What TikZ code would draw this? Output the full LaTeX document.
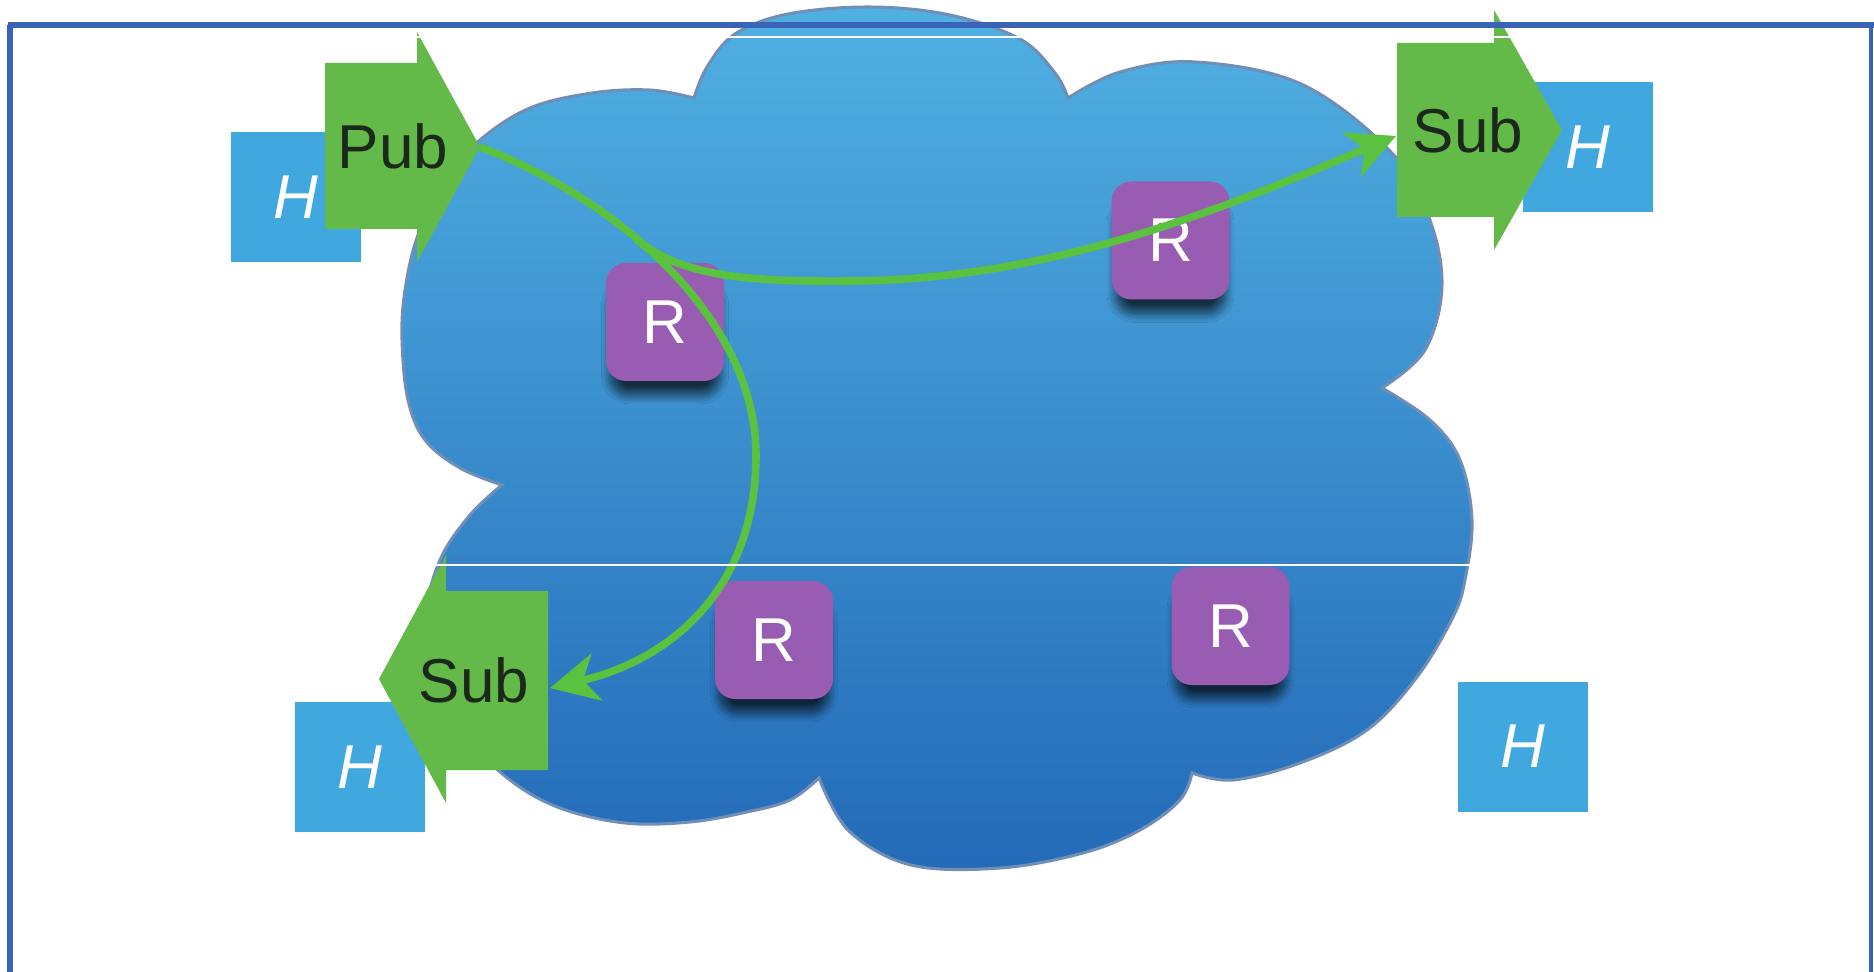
\documentclass[tikz,border=0pt]{standalone}
\usepackage{fontspec}
\setmainfont{Liberation Sans}
\usetikzlibrary{arrows.meta,shadows.blur}

\definecolor{framecol}{RGB}{58,98,182}
\definecolor{cloudtop}{RGB}{80,176,226}
\definecolor{cloudmid}{RGB}{62,140,204}
\definecolor{cloudbot}{RGB}{36,106,184}
\definecolor{cloudedge}{RGB}{112,142,182}
\definecolor{hostblue}{RGB}{64,168,222}
\definecolor{routerpurple}{RGB}{152,92,178}
\definecolor{blockgreen}{RGB}{100,186,72}
\definecolor{linkgreen}{RGB}{90,194,62}
\definecolor{labeldark}{RGB}{28,40,28}

\tikzset{
  hostbox/.style={fill=hostblue, minimum size=65pt, inner sep=0pt, text=white,
    font=\fontsize{31}{31}\selectfont\itshape},
  routerbox/.style={fill=routerpurple, rounded corners=10pt, minimum size=59pt,
    inner sep=0pt, text=white, font=\fontsize{31}{31}\selectfont,
    blur shadow={shadow xshift=0pt, shadow yshift=-10pt, shadow scale=0.92,
      shadow blur radius=5pt, shadow opacity=70, shadow blur steps=14}},
  blockarrow/.style={fill=blockgreen},
  arrowlabel/.style={anchor=base, inner sep=0pt, text=labeldark,
    font=\fontsize{31}{31}\selectfont},
  link/.style={draw=linkgreen, line width=3.8pt,
    -{Stealth[length=24pt,width=24pt,inset=7pt]}},
  seam/.style={draw=white, line width=0.8pt},
}

\begin{document}
\begin{tikzpicture}[x=0.5pt,y=-0.5pt]
\useasboundingbox (0,0) rectangle (1874,972);
\fill[white] (0,0) rectangle (1874,972);

% the network cloud
\path[top color=cloudtop, middle color=cloudmid, bottom color=cloudbot,
      draw=cloudedge, line width=1.5pt]
  plot[smooth, tension=0.6] coordinates {(694,98) (707,67) (735,34) (788,14) (870,7) (950,15) (1020,39) (1055,73) (1068,98)}
  -- plot[smooth, tension=0.6] coordinates {(1068,98) (1120,72) (1196,62) (1301,84) (1389,150) (1428,215) (1442,285) (1425,350) (1382,388)}
  -- plot[smooth, tension=0.6] coordinates {(1382,388) (1430,420) (1460,460) (1472,520) (1465,580) (1453,617) (1417,677) (1367,730) (1300,763) (1233,780) (1192,773)}
  -- plot[smooth, tension=0.6] coordinates {(1192,773) (1180,800) (1140,830) (1083,853) (1000,868) (911,865) (849,831) (819,778)}
  -- plot[smooth, tension=0.6] coordinates {(819,778) (790,800) (747,812) (690,822) (625,823) (560,808) (510,780) (465,735) (435,680) (425,620) (440,560) (470,515) (502,485)}
  -- plot[smooth, tension=0.6] coordinates {(502,485) (460,468) (425,440) (408,400) (402,340) (405,290) (418,235) (445,180) (480,140) (530,108) (592,93) (650,90) (694,98)}
  -- cycle;

% routers
\node[routerbox] (r1) at (665,322) {R};
\node[routerbox] (r2) at (1170.5,240.5) {R};
\node[routerbox] (r3) at (774,640) {R};
\node[routerbox] (r4) at (1230.5,626) {R};

% hosts
\node[hostbox] (htl) at (295.5,197.5) {H};
\node[hostbox] (htr) at (1587.5,147.5) {H};
\node[hostbox] (hbl) at (360,767) {H};
\node[hostbox] (hbr) at (1522.5,746.5) {H};

% publisher arrow
\fill[blockarrow] (325,63) -- (417,63) -- (417,32) -- (480,147) -- (417,262)
  -- (417,229) -- (325,229) -- cycle;
\coordinate (pubtip) at (480,147);
\node[arrowlabel] (publabel) at (393,169) {Pub};

% subscriber arrow, upper right
\fill[blockarrow] (1397,43) -- (1494,43) -- (1494,10) -- (1562,130) -- (1494,250)
  -- (1494,217) -- (1397,217) -- cycle;
\coordinate (subtrin) at (1396,136);
\node[arrowlabel] (subtrlabel) at (1468,153) {Sub};

% subscriber arrow, lower left
\fill[blockarrow] (548,591) -- (446,591) -- (446,555) -- (379,679) -- (446,803)
  -- (446,770) -- (548,770) -- cycle;
\coordinate (subblin) at (550,688);
\node[arrowlabel] (subbllabel) at (474,703) {Sub};

% message paths
\coordinate (fork) at (636,239);
\draw[link] (pubtip) .. controls (620,200) and (756,320) .. (756,455)
  .. controls (756,590) and (670,660) .. (subblin);
\draw[link] (fork) .. controls (680,275) and (740,282) .. (850,281)
  .. controls (1050,280) and (1220,210) .. (subtrin);

% seams
\draw[seam] (0,37) -- (1874,37);
\draw[seam] (0,565) -- (1874,565);

% frame
\draw[framecol, line width=2.8pt] (8,25) -- (1874,25);
\draw[framecol, line width=2.8pt] (10,25) -- (10,972);
\draw[framecol, line width=2pt] (1871,25) -- (1871,972);
\end{tikzpicture}
\end{document}
